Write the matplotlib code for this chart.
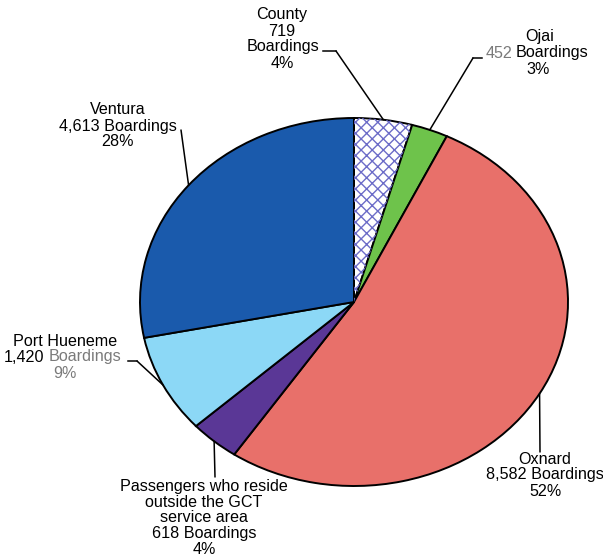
import matplotlib
matplotlib.use('Agg')
import matplotlib.pyplot as plt
import numpy as np
from matplotlib.patches import Wedge
from matplotlib.lines import Line2D

W, H = 603, 559

regions = ['County', 'Ojai', 'Oxnard', 'Passengers who reside outside the GCT service area',
           'Port Hueneme', 'Ventura']
boardings = [719, 452, 8582, 618, 1420, 4613]
shares = ['4%', '3%', '52%', '4%', '9%', '28%']
colors = ['white', '#6ec34b', '#e8706a', '#5a3796', '#8cd8f6', '#1a5aac']


def px(x, y):
    # image pixels (top-left origin) -> figure fraction
    return (x / W, 1 - y / H)


def put(s, x, y, ha='center', color='black'):
    fig.text(*px(x, y), s, ha=ha, va='center', color=color,
             fontsize=11.6, family=['Liberation Sans', 'DejaVu Sans'])


def tick(x1, x2, y):
    a, b = px(x1, y), px(x2, y)
    fig.add_artist(Line2D([a[0], b[0]], [a[1], b[1]], transform=fig.transFigure,
                          color='black', lw=1.1))


fig = plt.figure(figsize=(W / 100, H / 100), dpi=100)
ax = fig.add_axes([140 / W, (H - 486) / H, 428 / W, 368 / H])
wedges, _ = ax.pie(boardings, startangle=90, counterclock=False, colors=colors,
                   wedgeprops=dict(edgecolor='black', linewidth=1.4))
ax.set_aspect('auto')
ax.set_xlim(-1, 1)
ax.set_ylim(-1, 1)

# County slice is hatched
w0 = wedges[0]
ax.add_patch(Wedge(w0.center, w0.r, w0.theta1, w0.theta2, facecolor='none',
                   edgecolor='#6c6cc8', hatch='xxx', linewidth=0))

# leader lines: start point of each line (image pixels)
starts = [(336, 51), (473, 58), (540, 452), (215, 477), (137, 361), (181, 130)]
for w, (sx, sy) in zip(wedges, starts):
    mid = np.deg2rad((w.theta1 + w.theta2) / 2)
    ax.annotate('', xy=(np.cos(mid), np.sin(mid)), xycoords='data',
                xytext=px(sx, sy), textcoords='figure fraction',
                arrowprops=dict(arrowstyle='-', color='black', lw=1.1,
                                shrinkA=0, shrinkB=0))
tick(323, 336, 51)
tick(473, 482, 58)
tick(128, 137, 361)

gray = '#7a7a7a'
# County
put(regions[0], 282, 15)
put(f'{boardings[0]:,}', 282, 31)
put('Boardings', 283, 47)
put(shares[0], 282, 63)
# Ojai
put(regions[1], 540, 37)
put(f'{boardings[1]:,}', 512, 53, ha='right', color=gray)
put('Boardings', 516, 53, ha='left')
put(shares[1], 538, 70)
# Oxnard
put(regions[2], 545, 460)
put(f'{boardings[2]:,} Boardings', 545, 475)
put(shares[2], 545, 491)
# Passengers outside service area
for i, s in enumerate(['Passengers who reside', 'outside the GCT', 'service area',
                       f'{boardings[3]:,} Boardings', shares[3]]):
    put(s, 204, 487 + i * 15.5)
# Port Hueneme
put(regions[4], 65, 342)
put(f'{boardings[4]:,}', 44, 357, ha='right')
put('Boardings', 49, 357, ha='left', color=gray)
put(shares[4], 65, 373, color=gray)
# Ventura
put(regions[5], 118, 110)
put(f'{boardings[5]:,} Boardings', 118, 126)
put(shares[5], 118, 141)

fig.savefig('out.png', dpi=100)
